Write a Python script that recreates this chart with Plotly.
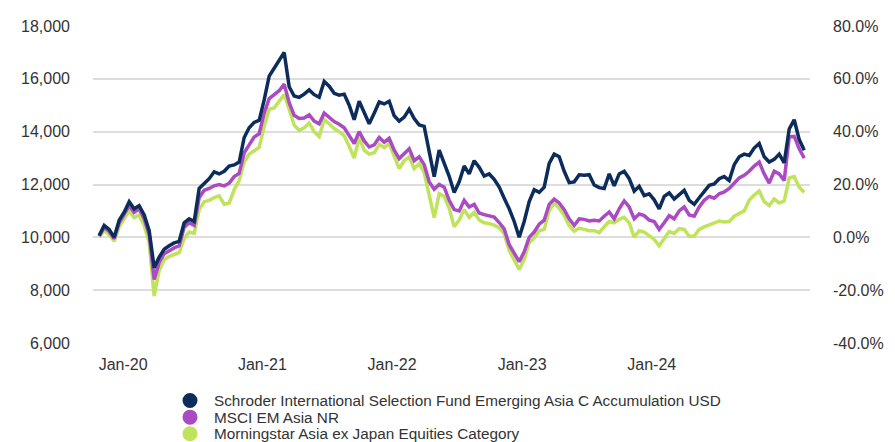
import pandas as pd
import plotly.graph_objects as go

start_date = "2019-10-31"
end_date = "2024-10-31"

schroder = [10070,10450,10300,10000,10650,10950,11350,11080,11200,10850,
            10250,8850,9250,9550,9680,9790,9850,10550,10700,10600,
            11850,12050,12220,12480,12400,12500,12700,12740,12850,13780,
            14150,14350,14430,15200,16100,16400,16700,17000,15700,15350,
            15300,15420,15580,15400,15300,15900,15720,15450,15380,15420,
            15000,14450,15150,14750,14300,14700,15120,15050,15150,14600,
            14400,14550,14850,14500,14250,14200,13300,12300,13300,12800,
            12310,11700,12100,12700,12400,12900,12650,12320,12400,12200,
            11900,11480,11080,10600,10000,10600,11350,11800,11700,11900,
            12800,13150,13050,12500,12070,12100,12370,12350,12370,11980,
            11880,11850,12400,11950,12400,12500,12220,11750,11930,11580,
            11650,11420,11080,11550,11680,11450,11600,11780,11400,11250,
            11500,11740,11970,12020,12220,12300,12150,12750,13050,13150,
            13100,13380,13550,13050,12850,12950,13150,12820,14100,14450,
            13700,13300]

msci = [10050,10380,10220,9950,10550,10850,11200,10950,11080,10700,
        10100,8400,9050,9380,9500,9600,9680,10380,10550,10450,
        11500,11780,11850,11950,12000,11950,12050,12300,12420,13200,
        13500,13800,13920,14700,15250,15400,15550,15800,15100,14620,
        14500,14520,14640,14400,14300,14700,14550,14380,14280,14150,
        13850,13550,14000,13650,13420,13500,13780,13600,13750,13300,
        12980,13150,13350,12900,13050,12750,12100,11820,12000,11900,
        11400,11050,11000,11400,11150,11250,10920,10860,10830,10770,
        10560,10320,9720,9400,9080,9450,10000,10200,10500,10650,
        11250,11450,11300,11050,10700,10450,10700,10680,10620,10650,
        10620,10800,10960,10700,11080,11380,11150,10700,10880,10820,
        10650,10600,10300,10550,10820,10700,11000,11150,10850,10800,
        11150,11400,11550,11480,11650,11720,11850,12050,12250,12350,
        12500,12700,12850,12400,12050,12500,12400,12150,13800,13820,
        13350,13000]

morningstar = [10020,10250,10100,9850,10400,10700,11000,10750,10850,10450,
               9800,7780,8750,9150,9280,9350,9420,9950,10200,10150,
               11050,11350,11400,11500,11570,11250,11300,11800,12150,12850,
               13150,13280,13400,14200,14850,14900,15150,15400,14850,14250,
               14050,14150,14320,14000,13820,14450,14300,14120,14000,13850,
               13450,13000,13780,13300,13150,13200,13520,13400,13550,13050,
               12600,12900,13050,12600,12800,12450,11600,10750,11650,11550,
               11100,10400,10650,11050,10750,10950,10660,10550,10520,10460,
               10360,10140,9500,9150,8780,9170,9800,9980,10250,10300,
               11000,11300,11100,10830,10450,10230,10350,10300,10250,10250,
               10180,10400,10600,10550,10680,10760,10550,10000,10250,10200,
               10040,9920,9680,9950,10220,10150,10330,10300,10040,10050,
               10300,10400,10480,10560,10620,10580,10600,10800,10900,11000,
               11400,11600,11750,11350,11200,11450,11300,11380,12250,12300,
               11900,11700]

series_names = ["Schroder International Selection Fund Emerging Asia C Accumulation USD",
                "MSCI EM Asia NR",
                "Morningstar Asia ex Japan Equities Category"]
series_colors = ["#0c2c5c", "#ab4bc3", "#bfe35a"]

tick_dates = ["2020-01-01", "2020-12-27", "2021-11-28", "2022-10-31", "2023-10-02"]
tick_labels = ["Jan-20", "Jan-21", "Jan-22", "Jan-23", "Jan-24"]

left_ticks = [6000, 8000, 10000, 12000, 14000, 16000, 18000]
right_ticks = [-40, -20, 0, 20, 40, 60, 80]
right_labels = [f"{v:.1f}%" for v in right_ticks]

dates = pd.date_range(start_date, end_date, periods=len(schroder))
all_series = [schroder, msci, morningstar]

# layout geometry (figure pixels; the page adds an 8px body margin)
W, H = 887, 434
ML, MR, MT, MB = 85, 85, 10, 99
PW, PH = W - ML - MR, H - MT - MB
LEG_DOT_X, LEG_TEXT_X = 182, 204
LEG_ROWS_Y = [394, 411, 428]

fig = go.Figure()
for vals, name, col in reversed(list(zip(all_series, series_names, series_colors))):
    fig.add_trace(go.Scatter(x=dates, y=vals, mode="lines", name=name,
                             line=dict(color=col, width=3.5), showlegend=False,
                             hoverinfo="skip"))
# percent axis companion (invisible)
fig.add_trace(go.Scatter(x=dates, y=[(v / 10000 - 1) * 100 for v in schroder],
                         yaxis="y2", mode="lines", line=dict(width=0, color="rgba(0,0,0,0)"),
                         showlegend=False, hoverinfo="skip"))

font_family = "Liberation Sans, Arial, sans-serif"
shapes = []
annotations = []
for name, col, ry in zip(series_names, series_colors, LEG_ROWS_Y):
    yp = (H - MB - ry) / PH
    xp = (LEG_DOT_X - ML) / PW
    shapes.append(dict(type="circle", xref="paper", yref="paper",
                       xsizemode="pixel", ysizemode="pixel",
                       xanchor=xp, yanchor=yp, x0=-7.5, x1=7.5, y0=-7.5, y1=7.5,
                       fillcolor=col, line=dict(width=0)))
    annotations.append(dict(text=name, xref="paper", yref="paper",
                            x=(LEG_TEXT_X - ML) / PW, y=yp, xanchor="left", yanchor="middle",
                            showarrow=False, font=dict(size=15.3, color="#333333", family=font_family)))

fig.update_layout(
    width=W, height=H,
    margin=dict(l=ML, r=MR, t=MT, b=MB),
    paper_bgcolor="white", plot_bgcolor="white",
    font=dict(family=font_family, color="#333333", size=16),
    showlegend=False,
    shapes=shapes, annotations=annotations,
    xaxis=dict(type="date",
               range=["2019-10-15", "2024-11-15"],
               tickvals=tick_dates, ticktext=tick_labels,
               showgrid=False, zeroline=False,
               showline=False, ticks="", ticklabelstandoff=10,
               tickfont=dict(size=16, color="#333333")),
    yaxis=dict(range=[6000, 18000], tickvals=left_ticks, tickformat=",d",
               showgrid=True, gridcolor="#dddddd", gridwidth=1.5, zeroline=False,
               showline=False, ticks="", ticklabelstandoff=22,
               tickfont=dict(size=16, color="#333333"), layer="below traces"),
    yaxis2=dict(range=[-40, 80], tickvals=right_ticks, ticktext=right_labels,
                overlaying="y", side="right", showgrid=False, zeroline=False,
                showline=False, ticks="", ticklabelstandoff=22,
                tickfont=dict(size=16, color="#333333")),
)

fig.write_html("out.html")
